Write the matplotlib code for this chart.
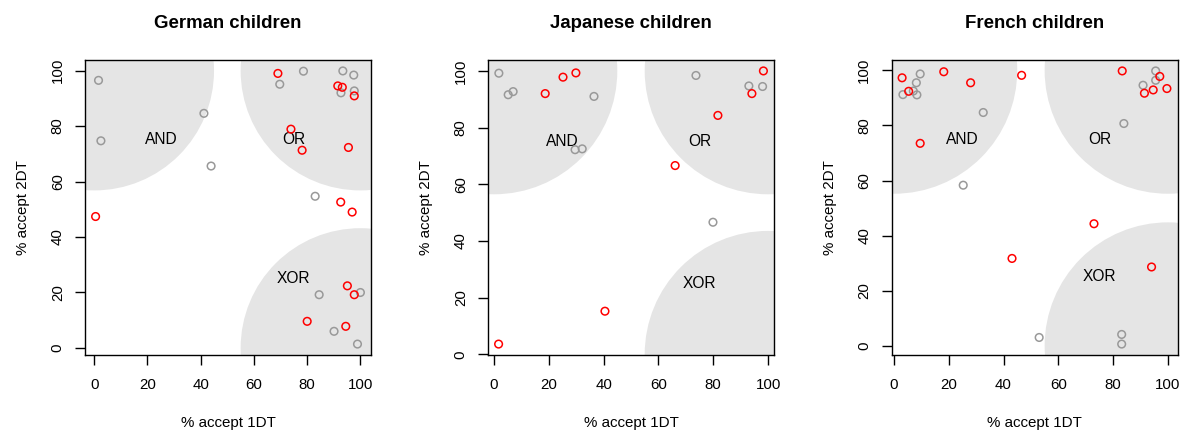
import numpy as np
import matplotlib
matplotlib.use('agg')
import matplotlib.pyplot as plt
from matplotlib.patches import Ellipse

plt.rcParams['font.family'] = ['Liberation Sans', 'DejaVu Sans']

titles = ['German children', 'Japanese children', 'French children']

# German
de_gray_x = [1.6, 2.5, 41.2, 43.9, 69.7, 78.6, 93.4, 97.5, 92.7, 97.7, 83.0, 84.5, 100.0, 90.1, 98.9]
de_gray_y = [96.5, 74.7, 84.6, 65.6, 95.1, 99.8, 99.9, 98.4, 92.0, 92.7, 54.7, 19.2, 20.0, 6.0, 1.4]
de_red_x = [69.0, 91.5, 93.2, 97.7, 73.9, 78.1, 95.5, 0.5, 92.6, 96.9, 95.1, 97.7, 80.0, 94.5]
de_red_y = [99.0, 94.5, 94.0, 90.9, 78.9, 71.3, 72.3, 47.4, 52.6, 49.0, 22.4, 19.2, 9.6, 7.8]

# Japanese
jp_gray_x = [1.8, 5.2, 7.0, 36.5, 29.6, 32.2, 73.7, 93.0, 98.0, 79.9]
jp_gray_y = [99.2, 91.6, 92.7, 91.0, 72.2, 72.5, 98.4, 94.7, 94.5, 46.6]
jp_red_x = [18.7, 25.2, 29.9, 98.3, 94.1, 81.7, 66.1, 40.5, 1.7]
jp_red_y = [92.0, 97.8, 99.3, 100.0, 92.0, 84.3, 66.6, 15.2, 3.6]

# French
fr_gray_x = [9.6, 8.2, 7.1, 3.3, 8.4, 32.6, 25.3, 53.0, 95.5, 95.5, 90.9, 83.9, 83.1, 83.1]
fr_gray_y = [98.7, 95.5, 92.5, 91.2, 91.1, 84.7, 58.3, 3.0, 99.8, 96.4, 94.6, 80.7, 4.1, 0.6]
fr_red_x = [3.0, 5.4, 18.2, 28.0, 46.6, 9.6, 83.3, 97.0, 94.6, 91.4, 99.6, 73.0, 43.1, 94.0]
fr_red_y = [97.3, 92.4, 99.5, 95.5, 98.2, 73.5, 99.8, 97.8, 92.9, 91.7, 93.4, 44.3, 31.7, 28.6]

panels = [
    (de_gray_x, de_gray_y, de_red_x, de_red_y),
    (jp_gray_x, jp_gray_y, jp_red_x, jp_red_y),
    (fr_gray_x, fr_gray_y, fr_red_x, fr_red_y),
]

region_centers = [(0, 100), (100, 100), (100, 0)]
region_labels = [('AND', 25, 75), ('OR', 75, 75), ('XOR', 75, 25)]
radius = 45

W, H = 1181, 430
fig = plt.figure(figsize=(W / 100, H / 100), dpi=100)
lefts = [85, 488, 891.5]
ax_w, ax_h, ax_top = 286, 295, 60


def rlim(v):
    # R style: data range plus 4% each side
    lo, hi = min(v), max(v)
    d = (hi - lo) * 0.04
    return lo - d, hi + d


for i, (gx, gy, rx, ry) in enumerate(panels):
    ax = fig.add_axes([lefts[i] / W, 1 - (ax_top + ax_h) / H, ax_w / W, ax_h / H])
    xlim = rlim(gx + rx)
    ylim = rlim(gy + ry)
    ax.set_xlim(xlim)
    ax.set_ylim(ylim)
    # circles round in pixels
    px_x = ax_w / (xlim[1] - xlim[0])
    px_y = ax_h / (ylim[1] - ylim[0])
    for cx, cy in region_centers:
        ax.add_patch(Ellipse((cx, cy), 2 * radius, 2 * radius * px_x / px_y,
                             facecolor='#e5e5e5', edgecolor='none', zorder=0))
    for lab, lx, ly in region_labels:
        ax.text(lx, ly, lab, ha='center', va='center', fontsize=11.2, zorder=1)
    ax.scatter(gx, gy, s=30, facecolors='none', edgecolors='#999999', linewidths=1.1, zorder=2)
    ax.scatter(rx, ry, s=30, facecolors='none', edgecolors='#ff0000', linewidths=1.1, zorder=3)
    ax.set_xticks([0, 20, 40, 60, 80, 100])
    ax.set_yticks([0, 20, 40, 60, 80, 100])
    ax.tick_params(direction='out', length=7, width=1, labelsize=10.8)
    ax.tick_params(axis='x', pad=9.5)
    ax.tick_params(axis='y', pad=7.5)
    for lbl in ax.get_yticklabels():
        lbl.set_rotation(90)
        lbl.set_va('center')
    for sp in ax.spines.values():
        sp.set_linewidth(1)
    ax.set_title(titles[i], fontsize=13.4, fontweight='bold', pad=23)
    ax.set_xlabel('% accept 1DT', fontsize=10.9, labelpad=17)
    ax.set_ylabel('% accept 2DT', fontsize=10.9, labelpad=15)

fig.savefig('out.png', dpi=100)
